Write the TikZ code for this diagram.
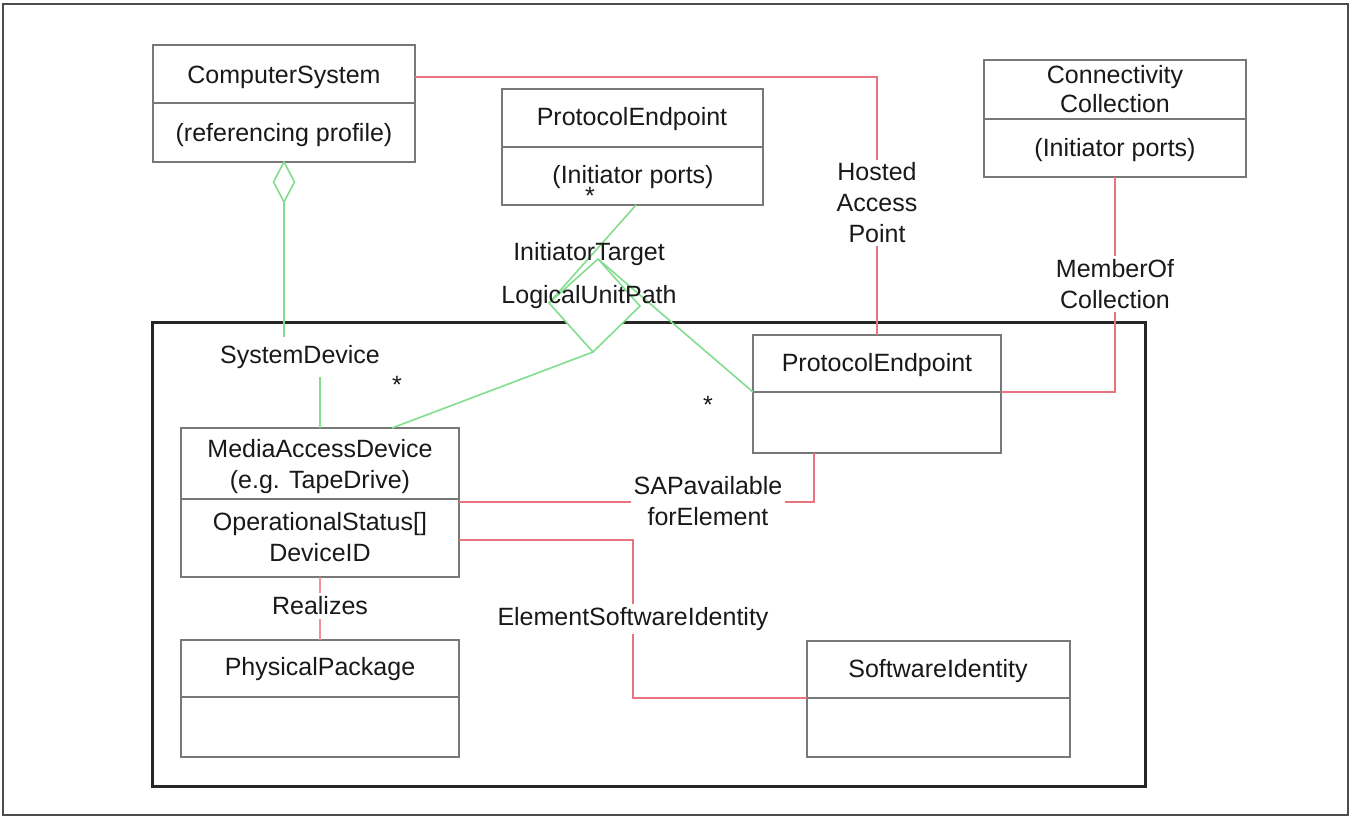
\documentclass[tikz,border=0pt]{standalone}
\usepackage{fontspec}
\setmainfont{Liberation Sans}
\usetikzlibrary{fit,calc}
\definecolor{rl}{RGB}{234,115,128}
\definecolor{gl}{RGB}{130,222,142}
\definecolor{bx}{RGB}{120,120,120}
\definecolor{tx}{RGB}{25,25,25}
\begin{document}
\begin{tikzpicture}[x=1pt,y=-1pt,
  every node/.style={font=\fontsize{25}{31}\selectfont, text=tx, inner sep=2pt},
  umlbox/.style={draw=bx, line width=1.6pt, fill=white, inner sep=0pt, outer sep=0pt},
  divline/.style={draw=bx, line width=1.6pt},
  txt/.style={anchor=base},
  lbl/.style={fill=white, inner sep=3pt, align=center},
  rline/.style={draw=rl, line width=1.4pt},
  gline/.style={draw=gl, line width=1.6pt},
  frameline/.style={draw=black!85, line width=3pt},
]
\useasboundingbox (0,0) rectangle (1351,817);
\fill[white] (0,0) rectangle (1351,817);
\draw[draw=black!70, line width=1.5pt] (3,4) rectangle (1348,815);
\draw[frameline] (152,322) rectangle (1145,786);

% boxes
\node[umlbox, fit={(153,45)(415,162)}] (cs) {};
\draw[divline] (cs.west |- 0,103) -- (cs.east |- 0,103);
\node[umlbox, fit={(502,89)(763,205)}] (pe1) {};
\draw[divline] (pe1.west |- 0,147) -- (pe1.east |- 0,147);
\node[umlbox, fit={(984,60)(1246,177)}] (cc) {};
\draw[divline] (cc.west |- 0,119) -- (cc.east |- 0,119);
\node[umlbox, fit={(753,335)(1001,453)}] (pe2) {};
\draw[divline] (pe2.west |- 0,392) -- (pe2.east |- 0,392);
\node[umlbox, fit={(181,428)(459,577)}] (mad) {};
\draw[divline] (mad.west |- 0,499) -- (mad.east |- 0,499);
\node[umlbox, fit={(181,640)(459,757)}] (pp) {};
\draw[divline] (pp.west |- 0,697) -- (pp.east |- 0,697);
\node[umlbox, fit={(807,641)(1070,757)}] (si) {};
\draw[divline] (si.west |- 0,698) -- (si.east |- 0,698);

% box texts
\node[txt] (csA) at (284,83) {ComputerSystem};
\node[txt] (csB) at (284,141) {(referencing profile)};
\node[txt] (peA) at (632,125) {ProtocolEndpoint};
\node[txt] (peB) at (633,183) {(Initiator ports)};
\node[txt] (ccA) at (1115,83) {Connectivity};
\node[txt] (ccB) at (1115,112) {Collection};
\node[txt] (ccC) at (1115,156) {(Initiator ports)};
\node[txt] (pe2A) at (877,371) {ProtocolEndpoint};
\node[txt] (madA) at (320,457) {MediaAccessDevice};
\node[txt] (madB) at (320,488) {(e.g. TapeDrive)};
\node[txt] (madC) at (320,530) {OperationalStatus[]};
\node[txt] (madD) at (320,561) {DeviceID};
\node[txt] (ppA) at (320,675) {PhysicalPackage};
\node[txt] (siA) at (938,677) {SoftwareIdentity};

% red associations
\draw[rline] (csA.center -| cs.east) -| (pe2.north);
\node[lbl] (hap) at (877,203) {Hosted\\Access\\Point};
\draw[rline] (cc.south) |- (pe2.east |- 0,392);
\node[lbl] (moc) at (1115,284) {MemberOf\\Collection};
\coordinate (sapUp) at ($(pe2.south west)+(61,0)$);
\draw[rline] (mad.east |- 0,502) -| (sapUp);
\node[lbl] (sap) at (708,501) {SAPavailable\\forElement};
\coordinate (esiC) at (633,698);
\draw[rline] (mad.east |- 0,540) -| (esiC) -- (si.west |- esiC);
\node[lbl] (esi) at (633,619) {ElementSoftwareIdentity};
\draw[rline, draw=rl!80] (mad.south) -- (pp.north);
\node[lbl, inner sep=4pt] (rea) at (320,606) {Realizes};

% green: SystemDevice aggregation
\draw[gline, fill=white] (cs.south) -- ++(-10.5,20) -- ++(10.5,20) coordinate (agB) -- ++(10.5,-20) -- cycle;
\coordinate (sdTop) at (agB |- 0,337);
\coordinate (sdBot) at (mad.north |- 0,377);
\draw[gline] (agB) -- (sdTop);
\draw[gline] (sdBot) -- (mad.north);
\node[txt] (sd) at (300,363) {SystemDevice};

% green: InitiatorTargetLogicalUnitPath ternary association
\coordinate (dT) at (598,259);
\coordinate (dL) at (549,303);
\coordinate (dR) at (640,306);
\coordinate (dB) at (593,352);
\coordinate (pe1g) at (pe1.south -| 636,0);
\coordinate (madg) at (mad.north -| 392,0);
\draw[gline] (pe1g) -- (dL);
\draw[gline] (dT) -- (pe2.west |- 0,392);
\draw[gline] (dB) -- (madg);
\draw[gline, fill=white] (dT) -- (dL) -- (dB) -- (dR) -- cycle;
\node[txt] (itA) at (589,260) {InitiatorTarget};
\node[txt] (itB) at (589,303) {LogicalUnitPath};

% multiplicities
\node (m1) at (590,196) {*};
\node (m2) at (397,385) {*};
\node (m3) at (708,405) {*};
\end{tikzpicture}
\end{document}
